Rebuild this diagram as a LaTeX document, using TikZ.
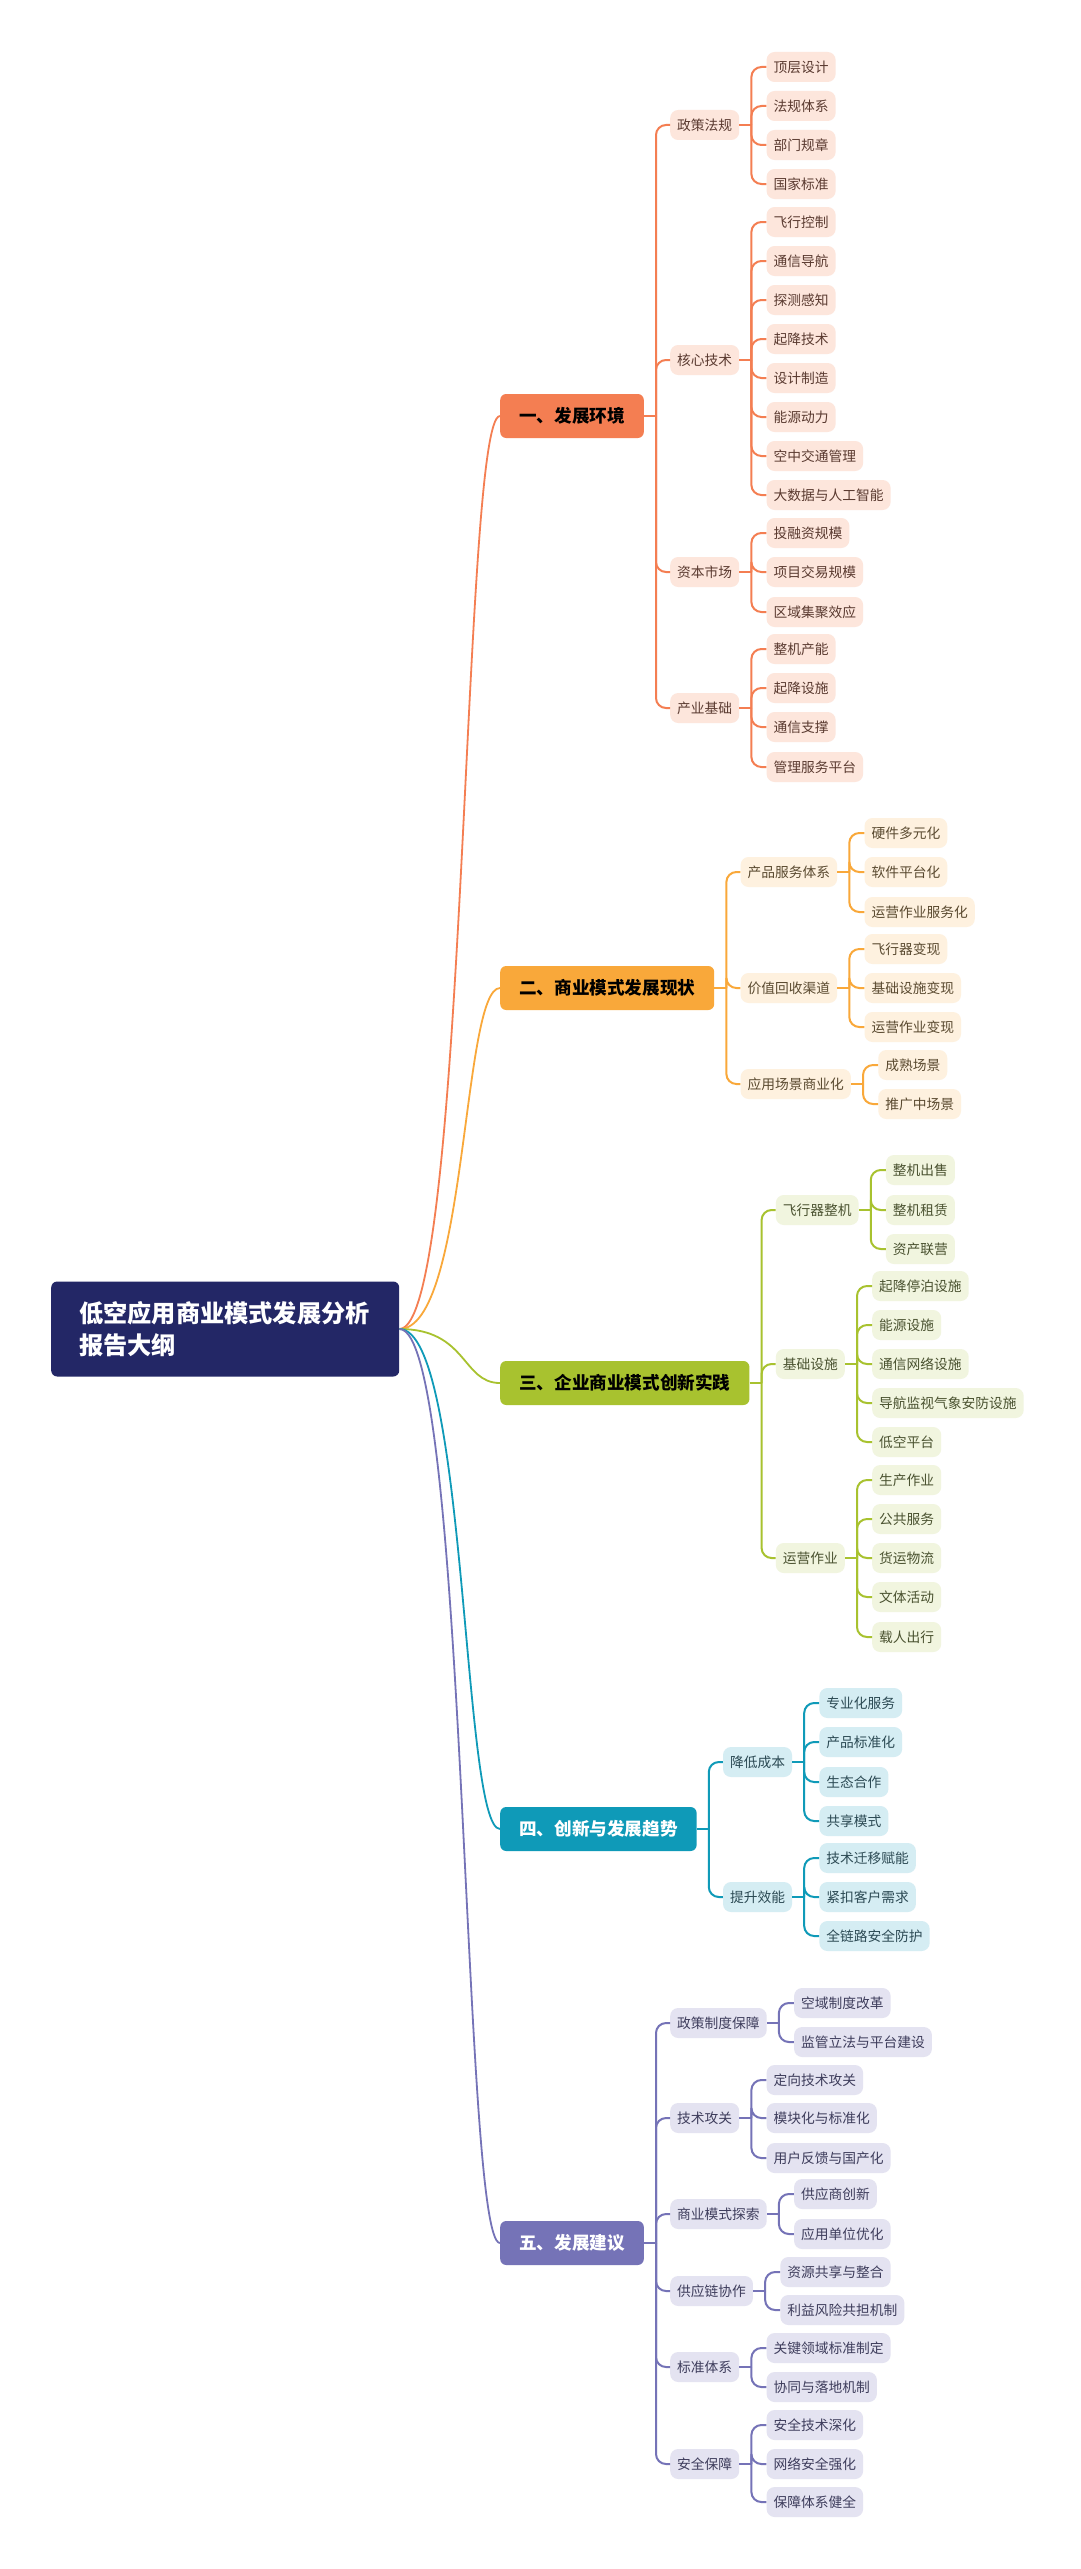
\documentclass[tikz,border=0pt]{standalone}
\usepackage{fontspec}
\setmainfont{Noto Sans CJK SC}
\usepackage{tikz}
\usetikzlibrary{calc}
\usepackage{xcolor}
\definecolor{rootblue}{HTML}{232766}
\definecolor{orgline}{HTML}{F47E52}
\definecolor{orgfill}{HTML}{FDE6DC}
\definecolor{orgtext}{HTML}{5A3A30}
\definecolor{ambline}{HTML}{F9A83A}
\definecolor{ambfill}{HTML}{FEF1DF}
\definecolor{ambtext}{HTML}{5A4A30}
\definecolor{grnline}{HTML}{A8C22F}
\definecolor{grnfill}{HTML}{F1F5DF}
\definecolor{grntext}{HTML}{4A5230}
\definecolor{tealline}{HTML}{0F9AB8}
\definecolor{tealfill}{HTML}{D5EDF3}
\definecolor{tealtext}{HTML}{2C4A54}
\definecolor{purline}{HTML}{7573B7}
\definecolor{purfill}{HTML}{E4E3F1}
\definecolor{purtext}{HTML}{3E3D5C}
\tikzset{
  rootbox/.style={fill=rootblue, text=white, rounded corners=6pt, inner xsep=28pt, inner ysep=0pt,
    minimum height=95pt, text width=292pt, align=left, font=\fontsize{24.2pt}{32pt}\selectfont\bfseries},
  topicbox/.style 2 args={fill=#1, text=#2, rounded corners=6pt, inner xsep=19pt, inner ysep=0pt,
    minimum height=44pt, font=\fontsize{17.6pt}{20pt}\selectfont\bfseries},
  subbox/.style 2 args={fill=#1, text=#2, rounded corners=8pt, inner xsep=7pt, inner ysep=0pt,
    minimum height=30pt, font=\fontsize{13.75pt}{16pt}\selectfont},
  branchline/.style={draw=#1, line width=2pt, rounded corners=10pt},
  mainlink/.style={draw=#1, line width=1.8pt},
}

\begin{document}
\begin{tikzpicture}[x=1pt, y=-1pt]
  \fill[white] (0,0) rectangle (1080,2569);
  \useasboundingbox (0,0) rectangle (1080,2569);
  % root
  \node[rootbox, anchor=west] (root) at (51,1329) {低空应用商业模式发展分析\\报告大纲};
  % level 1 topics
  \node[topicbox={orgline}{black}, anchor=west] (s1) at (500,416) {一、发展环境};
  \node[topicbox={ambline}{black}, anchor=west] (s2) at (500,988) {二、商业模式发展现状};
  \node[topicbox={grnline}{black}, anchor=west] (s3) at (500,1383) {三、企业商业模式创新实践};
  \node[topicbox={tealline}{white}, anchor=west] (s4) at (500,1829) {四、创新与发展趋势};
  \node[topicbox={purline}{white}, anchor=west] (s5) at (500,2243) {五、发展建议};
  \draw[mainlink=orgline] (root.east) .. controls +(68,0) and +(-38,0) .. (s1.west);
  \draw[mainlink=ambline] (root.east) .. controls +(68,0) and +(-38,0) .. (s2.west);
  \draw[mainlink=grnline] (root.east) .. controls +(68,0) and +(-38,0) .. (s3.west);
  \draw[mainlink=tealline] (root.east) .. controls +(68,0) and +(-38,0) .. (s4.west);
  \draw[mainlink=purline] (root.east) .. controls +(68,0) and +(-38,0) .. (s5.west);

  % 一、发展环境
  \coordinate (s1t) at ([xshift=12pt]s1.east);
  \draw[branchline=orgline] (s1.east) -- (s1t);
  \foreach \name/\lbl/\y in {a1/政策法规/125, a2/核心技术/360, a3/资本市场/572, a4/产业基础/708}{
    \node[subbox={orgfill}{orgtext}, anchor=west, xshift=14pt] (\name) at (s1t |- 0,\y) {\lbl};
    \draw[branchline=orgline] (s1t) |- (\name.west);
    \coordinate (\name t) at ([xshift=12pt]\name.east);
    \draw[branchline=orgline] (\name.east) -- (\name t);
  }
  \foreach \lbl/\y [count=\i] in {顶层设计/67, 法规体系/106, 部门规章/145, 国家标准/184}{
    \node[subbox={orgfill}{orgtext}, anchor=west, xshift=15pt] (a1-\i) at (a1t |- 0,\y) {\lbl};
    \draw[branchline=orgline] (a1t) |- (a1-\i.west);
  }
  \foreach \lbl/\y [count=\i] in {飞行控制/222, 通信导航/261, 探测感知/300, 起降技术/339,
      设计制造/378, 能源动力/417, 空中交通管理/456, 大数据与人工智能/495}{
    \node[subbox={orgfill}{orgtext}, anchor=west, xshift=15pt] (a2-\i) at (a2t |- 0,\y) {\lbl};
    \draw[branchline=orgline] (a2t) |- (a2-\i.west);
  }
  \foreach \lbl/\y [count=\i] in {投融资规模/533, 项目交易规模/572, 区域集聚效应/612}{
    \node[subbox={orgfill}{orgtext}, anchor=west, xshift=15pt] (a3-\i) at (a3t |- 0,\y) {\lbl};
    \draw[branchline=orgline] (a3t) |- (a3-\i.west);
  }
  \foreach \lbl/\y [count=\i] in {整机产能/649, 起降设施/688, 通信支撑/727, 管理服务平台/767}{
    \node[subbox={orgfill}{orgtext}, anchor=west, xshift=15pt] (a4-\i) at (a4t |- 0,\y) {\lbl};
    \draw[branchline=orgline] (a4t) |- (a4-\i.west);
  }

  % 二、商业模式发展现状
  \coordinate (s2t) at ([xshift=12pt]s2.east);
  \draw[branchline=ambline] (s2.east) -- (s2t);
  \foreach \name/\lbl/\y in {b1/产品服务体系/872, b2/价值回收渠道/988, b3/应用场景商业化/1084}{
    \node[subbox={ambfill}{ambtext}, anchor=west, xshift=14pt] (\name) at (s2t |- 0,\y) {\lbl};
    \draw[branchline=ambline] (s2t) |- (\name.west);
    \coordinate (\name t) at ([xshift=12pt]\name.east);
    \draw[branchline=ambline] (\name.east) -- (\name t);
  }
  \foreach \lbl/\y [count=\i] in {硬件多元化/833, 软件平台化/872, 运营作业服务化/912}{
    \node[subbox={ambfill}{ambtext}, anchor=west, xshift=15pt] (b1-\i) at (b1t |- 0,\y) {\lbl};
    \draw[branchline=ambline] (b1t) |- (b1-\i.west);
  }
  \foreach \lbl/\y [count=\i] in {飞行器变现/949, 基础设施变现/988, 运营作业变现/1027}{
    \node[subbox={ambfill}{ambtext}, anchor=west, xshift=15pt] (b2-\i) at (b2t |- 0,\y) {\lbl};
    \draw[branchline=ambline] (b2t) |- (b2-\i.west);
  }
  \foreach \lbl/\y [count=\i] in {成熟场景/1065, 推广中场景/1104}{
    \node[subbox={ambfill}{ambtext}, anchor=west, xshift=15pt] (b3-\i) at (b3t |- 0,\y) {\lbl};
    \draw[branchline=ambline] (b3t) |- (b3-\i.west);
  }

  % 三、企业商业模式创新实践
  \coordinate (s3t) at ([xshift=12pt]s3.east);
  \draw[branchline=grnline] (s3.east) -- (s3t);
  \foreach \name/\lbl/\y in {c1/飞行器整机/1210, c2/基础设施/1364, c3/运营作业/1558}{
    \node[subbox={grnfill}{grntext}, anchor=west, xshift=14pt] (\name) at (s3t |- 0,\y) {\lbl};
    \draw[branchline=grnline] (s3t) |- (\name.west);
    \coordinate (\name t) at ([xshift=12pt]\name.east);
    \draw[branchline=grnline] (\name.east) -- (\name t);
  }
  \foreach \lbl/\y [count=\i] in {整机出售/1170, 整机租赁/1210, 资产联营/1249}{
    \node[subbox={grnfill}{grntext}, anchor=west, xshift=15pt] (c1-\i) at (c1t |- 0,\y) {\lbl};
    \draw[branchline=grnline] (c1t) |- (c1-\i.west);
  }
  \foreach \lbl/\y [count=\i] in {起降停泊设施/1286, 能源设施/1325, 通信网络设施/1364,
      导航监视气象安防设施/1403, 低空平台/1442}{
    \node[subbox={grnfill}{grntext}, anchor=west, xshift=15pt] (c2-\i) at (c2t |- 0,\y) {\lbl};
    \draw[branchline=grnline] (c2t) |- (c2-\i.west);
  }
  \foreach \lbl/\y [count=\i] in {生产作业/1480, 公共服务/1519, 货运物流/1558, 文体活动/1597, 载人出行/1637}{
    \node[subbox={grnfill}{grntext}, anchor=west, xshift=15pt] (c3-\i) at (c3t |- 0,\y) {\lbl};
    \draw[branchline=grnline] (c3t) |- (c3-\i.west);
  }

  % 四、创新与发展趋势
  \coordinate (s4t) at ([xshift=12pt]s4.east);
  \draw[branchline=tealline] (s4.east) -- (s4t);
  \foreach \name/\lbl/\y in {d1/降低成本/1762, d2/提升效能/1897}{
    \node[subbox={tealfill}{tealtext}, anchor=west, xshift=14pt] (\name) at (s4t |- 0,\y) {\lbl};
    \draw[branchline=tealline] (s4t) |- (\name.west);
    \coordinate (\name t) at ([xshift=12pt]\name.east);
    \draw[branchline=tealline] (\name.east) -- (\name t);
  }
  \foreach \lbl/\y [count=\i] in {专业化服务/1703, 产品标准化/1742, 生态合作/1782, 共享模式/1821}{
    \node[subbox={tealfill}{tealtext}, anchor=west, xshift=15pt] (d1-\i) at (d1t |- 0,\y) {\lbl};
    \draw[branchline=tealline] (d1t) |- (d1-\i.west);
  }
  \foreach \lbl/\y [count=\i] in {技术迁移赋能/1858, 紧扣客户需求/1897, 全链路安全防护/1936}{
    \node[subbox={tealfill}{tealtext}, anchor=west, xshift=15pt] (d2-\i) at (d2t |- 0,\y) {\lbl};
    \draw[branchline=tealline] (d2t) |- (d2-\i.west);
  }

  % 五、发展建议
  \coordinate (s5t) at ([xshift=12pt]s5.east);
  \draw[branchline=purline] (s5.east) -- (s5t);
  \foreach \name/\lbl/\y in {e1/政策制度保障/2023, e2/技术攻关/2118, e3/商业模式探索/2214,
      e4/供应链协作/2291, e5/标准体系/2367, e6/安全保障/2464}{
    \node[subbox={purfill}{purtext}, anchor=west, xshift=14pt] (\name) at (s5t |- 0,\y) {\lbl};
    \draw[branchline=purline] (s5t) |- (\name.west);
    \coordinate (\name t) at ([xshift=12pt]\name.east);
    \draw[branchline=purline] (\name.east) -- (\name t);
  }
  \foreach \lbl/\y [count=\i] in {空域制度改革/2003, 监管立法与平台建设/2042}{
    \node[subbox={purfill}{purtext}, anchor=west, xshift=15pt] (e1-\i) at (e1t |- 0,\y) {\lbl};
    \draw[branchline=purline] (e1t) |- (e1-\i.west);
  }
  \foreach \lbl/\y [count=\i] in {定向技术攻关/2080, 模块化与标准化/2118, 用户反馈与国产化/2158}{
    \node[subbox={purfill}{purtext}, anchor=west, xshift=15pt] (e2-\i) at (e2t |- 0,\y) {\lbl};
    \draw[branchline=purline] (e2t) |- (e2-\i.west);
  }
  \foreach \lbl/\y [count=\i] in {供应商创新/2194, 应用单位优化/2234}{
    \node[subbox={purfill}{purtext}, anchor=west, xshift=15pt] (e3-\i) at (e3t |- 0,\y) {\lbl};
    \draw[branchline=purline] (e3t) |- (e3-\i.west);
  }
  \foreach \lbl/\y [count=\i] in {资源共享与整合/2272, 利益风险共担机制/2310}{
    \node[subbox={purfill}{purtext}, anchor=west, xshift=15pt] (e4-\i) at (e4t |- 0,\y) {\lbl};
    \draw[branchline=purline] (e4t) |- (e4-\i.west);
  }
  \foreach \lbl/\y [count=\i] in {关键领域标准制定/2348, 协同与落地机制/2387}{
    \node[subbox={purfill}{purtext}, anchor=west, xshift=15pt] (e5-\i) at (e5t |- 0,\y) {\lbl};
    \draw[branchline=purline] (e5t) |- (e5-\i.west);
  }
  \foreach \lbl/\y [count=\i] in {安全技术深化/2425, 网络安全强化/2464, 保障体系健全/2502}{
    \node[subbox={purfill}{purtext}, anchor=west, xshift=15pt] (e6-\i) at (e6t |- 0,\y) {\lbl};
    \draw[branchline=purline] (e6t) |- (e6-\i.west);
  }
\end{tikzpicture}
\end{document}
